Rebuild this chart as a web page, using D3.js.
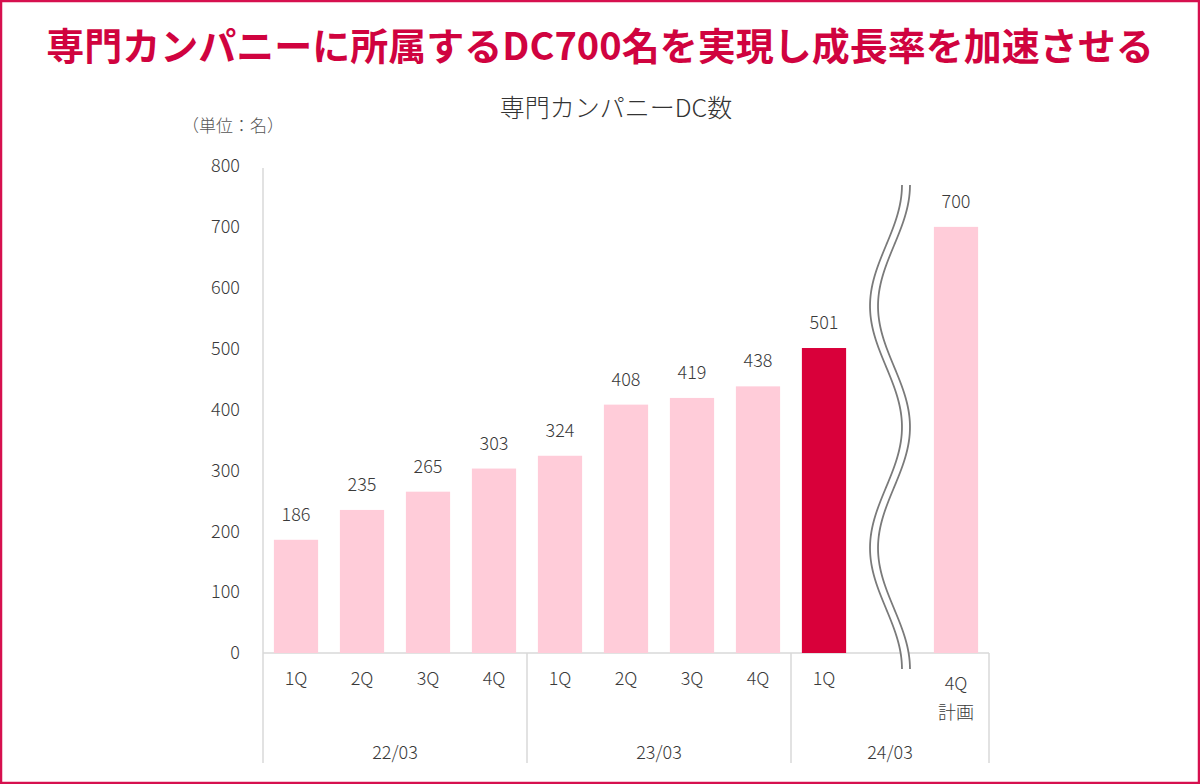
<!DOCTYPE html>
<html lang="ja">
<head>
<meta charset="utf-8">
<script src="https://cdn.jsdelivr.net/npm/d3@7"></script>
<style>
	html, body { margin: 0; padding: 0; background: #fff; }
	svg { display: block; font-family: "Noto Sans CJK JP", "Noto Sans", sans-serif; }
</style>
</head>
<body>
<svg id="chart" width="1200" height="784"></svg>
<script>
// Data
const quarters = ['1Q', '2Q', '3Q', '4Q', '1Q', '2Q', '3Q', '4Q', '1Q', '', '4Q'];
const values = [186, 235, 265, 303, 324, 408, 419, 438, 501, null, 700];
const groups = ['22/03', '23/03', '24/03'];
const groupSpans = [[0, 3], [4, 7], [8, 10]];
const yTicks = [0, 100, 200, 300, 400, 500, 600, 700, 800];
const highlightIndex = 8;
const breakIndex = 9;
const planIndex = 10;

const COLORS = {
	frame: '#d6104e',
	title: '#d0033f',
	bar: '#ffccd9',
	barHighlight: '#d9003a',
	axis: '#d9d9d9',
	text: '#3a3a3a',
	wave: '#7a7a7a',
};

const W = 1200, H = 784;
const PLOT = { left: 263, right: 989, top: 166, bottom: 653, catBottom: 763 };
const LABEL_SIZE = '18px';
const LABEL_WEIGHT = 300;

const svg = d3.select('#chart');

// Frame around the whole slide
svg.append('rect')
	.attr('x', 1).attr('y', 1).attr('width', W - 2).attr('height', H - 2)
	.attr('fill', '#fff').attr('stroke', COLORS.frame).attr('stroke-width', 2.5);

svg.append('text')
	.attr('x', W / 2).attr('y', 60).attr('text-anchor', 'middle')
	.attr('fill', COLORS.title).attr('font-size', '38px').attr('font-weight', 700)
	.text('専門カンパニーに所属するDC700名を実現し成長率を加速させる');

svg.append('text')
	.attr('x', 616).attr('y', 117).attr('text-anchor', 'middle')
	.attr('fill', '#333').attr('font-size', '25px').attr('font-weight', 300)
	.text('専門カンパニーDC数');

svg.append('text')
	.attr('x', 182).attr('y', 132)
	.attr('fill', '#555').attr('font-size', '17px').attr('font-weight', 300)
	.text('（単位：名）');

const x = d3.scaleBand()
	.domain(d3.range(quarters.length))
	.range([PLOT.left, PLOT.right])
	.paddingInner(0.33)
	.paddingOuter(0.165);

const y = d3.scaleLinear()
	.domain([0, 800])
	.range([PLOT.bottom, PLOT.top]);

// Category slot edges (no padding) for separators
const slot = (PLOT.right - PLOT.left) / quarters.length;
const slotLeft = (i) => PLOT.left + i * slot;

const labelStyle = (sel) => sel
	.attr('fill', COLORS.text).attr('font-size', LABEL_SIZE).attr('font-weight', LABEL_WEIGHT);

// Y axis: no ticks, labels only
const yAxis = svg.append('g')
	.attr('transform', `translate(${PLOT.left},0)`)
	.call(d3.axisLeft(y).tickValues(yTicks).tickSize(0).tickPadding(23));
yAxis.select('.domain').remove();
yAxis.selectAll('text')
	.call(labelStyle)
	.attr('font-family', '"Noto Sans CJK JP", sans-serif');

const lines = svg.append('g').attr('stroke', COLORS.axis).attr('stroke-width', 1.5);
lines.append('line')
	.attr('x1', PLOT.left).attr('x2', PLOT.left)
	.attr('y1', PLOT.top + 2).attr('y2', PLOT.catBottom);
lines.append('line')
	.attr('x1', PLOT.left).attr('x2', PLOT.right)
	.attr('y1', y(0)).attr('y2', y(0));
groupSpans.forEach(([, end]) => {
	lines.append('line')
		.attr('x1', slotLeft(end + 1)).attr('x2', slotLeft(end + 1))
		.attr('y1', y(0)).attr('y2', PLOT.catBottom);
});

// Bars
const barData = values.map((v, i) => ({ i, v })).filter((d) => d.v != null);

svg.append('g').selectAll('rect')
	.data(barData)
	.join('rect')
	.attr('x', (d) => x(d.i))
	.attr('width', x.bandwidth())
	.attr('y', (d) => y(d.v))
	.attr('height', (d) => y(0) - y(d.v))
	.attr('fill', (d) => (d.i === highlightIndex ? COLORS.barHighlight : COLORS.bar));

svg.append('g').selectAll('text')
	.data(barData)
	.join('text')
	.attr('x', (d) => x(d.i) + x.bandwidth() / 2)
	.attr('y', (d) => y(d.v) - 19)
	.attr('text-anchor', 'middle')
	.call(labelStyle)
	.text((d) => d.v);

// Quarter labels
svg.append('g').selectAll('text')
	.data(quarters.map((q, i) => ({ q, i })).filter((d) => d.q))
	.join('text')
	.attr('x', (d) => x(d.i) + x.bandwidth() / 2)
	.attr('y', (d) => (d.i === planIndex ? 690 : 685))
	.attr('text-anchor', 'middle')
	.call(labelStyle)
	.text((d) => d.q);

svg.append('text')
	.attr('x', x(planIndex) + x.bandwidth() / 2).attr('y', 719)
	.attr('text-anchor', 'middle')
	.call(labelStyle)
	.text('計画');

// Group labels
svg.append('g').selectAll('text')
	.data(groups.map((g, k) => ({ g, span: groupSpans[k] })))
	.join('text')
	.attr('x', (d) => (slotLeft(d.span[0]) + slotLeft(d.span[1] + 1)) / 2)
	.attr('y', 759)
	.attr('text-anchor', 'middle')
	.call(labelStyle)
	.text((d) => d.g);

// Axis break: double wavy line in the empty slot
const waveCx = x(breakIndex) + x.bandwidth() / 2;
const waveTop = 185, waveBottom = 669;
const period = (waveBottom - waveTop) / 2;
const wavePts = (dx) => d3.range(waveTop, waveBottom + 1, 4)
	.map((yy) => [waveCx + dx + 16 * Math.cos(2 * Math.PI * (yy - waveTop) / period), yy]);
const waveLine = d3.line().curve(d3.curveBasis);

const wave = svg.append('g').attr('fill', 'none');
wave.append('path').attr('d', waveLine(wavePts(0)))
	.attr('stroke', '#fff').attr('stroke-width', 7);
[-4, 4].forEach((dx) => {
	wave.append('path').attr('d', waveLine(wavePts(dx)))
		.attr('stroke', COLORS.wave).attr('stroke-width', 1.8);
});
</script>
</body>
</html>
